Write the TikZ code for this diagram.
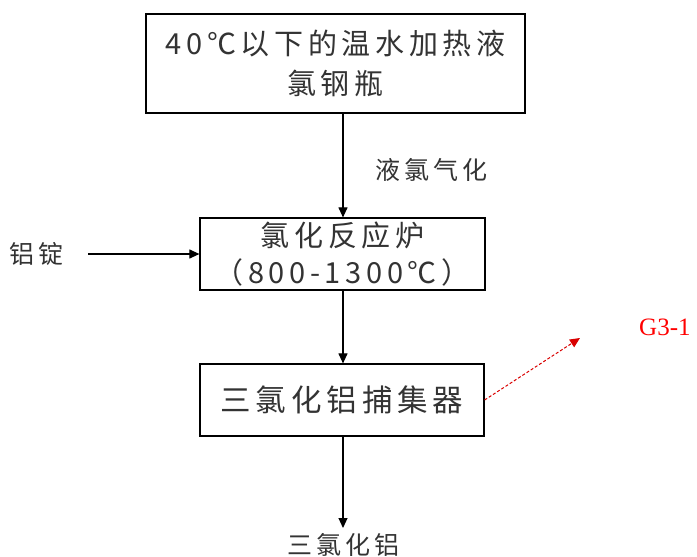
\documentclass[tikz,border=0pt]{standalone}
\usepackage{fontspec}
\setmainfont{Noto Sans CJK SC}[LetterSpace=16]
\newfontfamily\latinserif{Liberation Serif}
\usetikzlibrary{arrows.meta}
\definecolor{txt}{HTML}{333333}
\tikzset{
  procbox/.style={draw=black, line width=1.2pt, inner sep=0pt, align=center, text=txt, font=\fontsize{29}{40}\selectfont},
  lbl/.style={text=txt, font=\fontsize{25}{28}\selectfont, inner sep=0pt},
  flow/.style={draw=black, line width=1.1pt, -{Triangle[length=10pt,width=9pt]}},
  emis/.style={draw=red!85!black, line width=1pt, dashed, dash pattern=on 3pt off 2pt, -{Triangle[length=10pt,width=9pt]}}
}
\begin{document}
\begin{tikzpicture}[x=1pt,y=-1pt]
\useasboundingbox (0,0) rectangle (697,557);
\node[procbox, minimum width=379pt, minimum height=99pt] (b1) at (335.5,63.5) {40℃以下的温水加热液\\氯钢瓶};
\node[procbox, minimum width=285pt, minimum height=72pt, font=\fontsize{29}{37}\selectfont] (b2) at (342.5,254) {氯化反应炉\\（800-1300℃）};
\node[procbox, minimum width=284pt, minimum height=72pt, font=\fontsize{30.5}{37}\selectfont] (b3) at (342,400) {三氯化铝捕集器};
\node[lbl, anchor=west] (l1) at (375,170) {液氯气化};
\node[lbl, anchor=west] (l2) at (9,254) {铝锭};
\node[lbl] (out) at (343,545) {三氯化铝};
\node[text=red, font=\latinserif\fontsize{25}{28}\selectfont, inner sep=0pt, anchor=west] (g) at (639,327) {G3-1};
\coordinate (a1) at (88,254);
\coordinate (ge) at (580,338);
\draw[flow] (b1.south -| 343,0) -- (b2.north -| 343,0);
\draw[flow] (a1) -- (b2.west);
\draw[flow] (b2.south -| 343,0) -- (b3.north -| 343,0);
\draw[flow] (b3.south -| 343,0) -- (343,528);
\draw[emis] (b3.east) -- (ge);
\end{tikzpicture}
\end{document}
